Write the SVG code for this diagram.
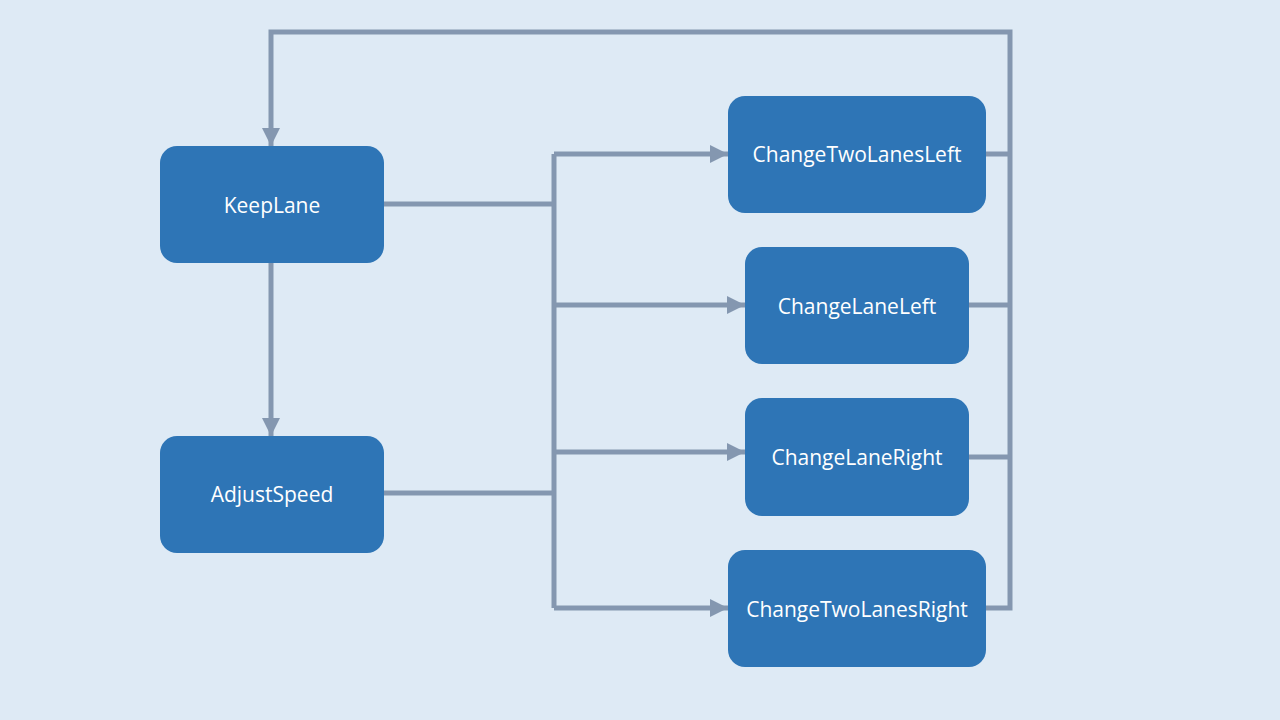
<svg xmlns="http://www.w3.org/2000/svg" width="1280" height="720" viewBox="0 0 1280 720">
<defs>
<style>
.node rect{fill:#2E75B6;}
.node text{fill:#FFFFFF;font-family:"Open Sans","Noto Sans",sans-serif;font-size:21px;text-anchor:middle;dominant-baseline:central;}
.conn path{fill:none;stroke:#8497B0;stroke-width:5;stroke-linejoin:miter;}
</style>
<marker id="arr" viewBox="0 0 10 10" refX="10" refY="5" markerWidth="3.6" markerHeight="3.6" markerUnits="strokeWidth" orient="auto">
<path d="M0,0 L10,5 L0,10 Z" fill="#8497B0"/>
</marker>
</defs>
<rect x="0" y="0" width="1280" height="720" fill="#DEEAF5"/>
<g id="connectors" class="conn">
<path d="M384,204 H554"/>
<path d="M384,493 H554"/>
<path d="M554,154 V608"/>
<path d="M554,154 H728" marker-end="url(#arr)"/>
<path d="M554,305 H745" marker-end="url(#arr)"/>
<path d="M554,452 H745" marker-end="url(#arr)"/>
<path d="M554,608 H728" marker-end="url(#arr)"/>
<path d="M271,263 V436" marker-end="url(#arr)"/>
<path d="M986,154 H1010"/>
<path d="M969,305 H1010"/>
<path d="M969,457 H1010"/>
<path d="M986,608 H1010 V32 H271 V146" marker-end="url(#arr)"/>
</g>
<g id="KeepLane" class="node"><rect x="160" y="146" width="224" height="117" rx="17"/><text x="272" y="205">KeepLane</text></g>
<g id="AdjustSpeed" class="node"><rect x="160" y="436" width="224" height="117" rx="17"/><text x="272" y="494">AdjustSpeed</text></g>
<g id="ChangeTwoLanesLeft" class="node"><rect x="728" y="96" width="258" height="117" rx="17"/><text x="857" y="154">ChangeTwoLanesLeft</text></g>
<g id="ChangeLaneLeft" class="node"><rect x="745" y="247" width="224" height="117" rx="17"/><text x="857" y="306">ChangeLaneLeft</text></g>
<g id="ChangeLaneRight" class="node"><rect x="745" y="398" width="224" height="118" rx="17"/><text x="857" y="457">ChangeLaneRight</text></g>
<g id="ChangeTwoLanesRight" class="node"><rect x="728" y="550" width="258" height="117" rx="17"/><text x="857" y="609">ChangeTwoLanesRight</text></g>
</svg>
